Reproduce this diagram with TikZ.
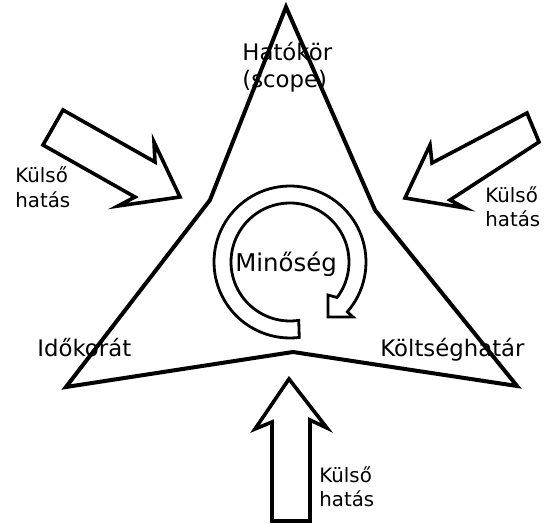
\documentclass[tikz,border=0pt]{standalone}
\usepackage{fontspec}
\setmainfont{DejaVu Sans}
\begin{document}
\begin{tikzpicture}[x=0.5pt,y=-0.5pt,
  edge/.style={line width=2pt},
  blockarrow/.style={line width=1.8pt},
  ring/.style={line width=1.4pt},
  corner/.style={font=\fontsize{11.4}{13.5}\selectfont,inner sep=0pt,anchor=base west},
  impact/.style={font=\fontsize{9.9}{12}\selectfont,inner sep=0pt,anchor=base west}]
\useasboundingbox (0,0) rectangle (548,524);
		% triangle
		\coordinate (top) at (286,7);
		\coordinate (left) at (66,387);
		\coordinate (right) at (517,386);
		\draw[edge] (top) -- (210,200) -- (left) -- (293,352) -- (right) -- (375,210) -- cycle;
		% block arrows
		\draw[blockarrow] (63,110) -- (155,162) -- (154,142) -- (180,197) -- (118,206) -- (135,197) -- (43,145) -- cycle;
		\draw[blockarrow] (527,113) -- (432,163) -- (430,145) -- (405,198) -- (465,208) -- (450,200) -- (539,142) -- cycle;
		\draw[blockarrow] (289,379) -- (327,428) -- (310,420) -- (310,521) -- (272,521) -- (272,422) -- (255,429) -- cycle;
		% ring arrow
		\coordinate (tip) at (328,317);
		\draw[ring] plot[domain=83:401,samples=90] ({290+76*cos(\x)},{262+76*sin(\x)})
			-- (353,317) -- (tip) -- (328,295)
			-- plot[domain=397:81.5,samples=90] ({290+59*cos(\x)},{262+59*sin(\x)}) -- cycle;
		% labels
		\node[corner] (hatokor) at (242,61) {Hatókör};
		\node[corner] (scope) at (242,88) {(scope)};
		\node[corner,font=\fontsize{12.2}{14}\selectfont] (minoseg) at (235,272) {Minőség};
		\node[corner] (ido) at (37,357) {Időkorát};
		\node[corner] (koltseg) at (380,357) {Költséghatár};
		\node[impact] (kulsoA) at (15,183) {Külső};
		\node[impact] (hatasA) at (15,208) {hatás};
		\node[impact] (kulsoB) at (485,203) {Külső};
		\node[impact] (hatasB) at (485,227) {hatás};
		\node[impact] (kulsoC) at (319,483) {Külső};
		\node[impact] (hatasC) at (319,507) {hatás};
\end{tikzpicture}
\end{document}
